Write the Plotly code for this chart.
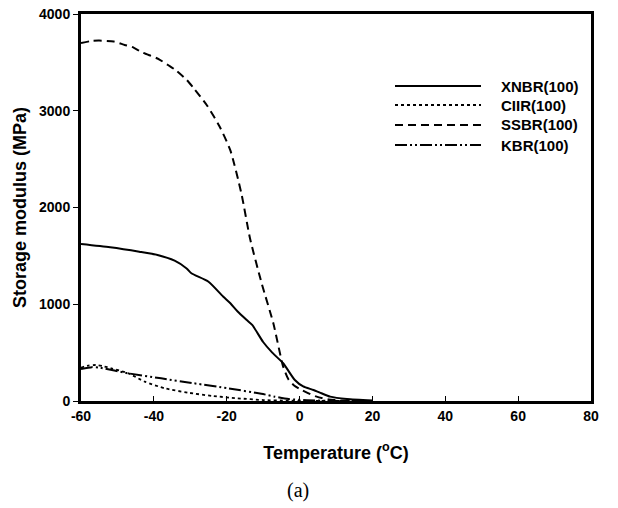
import plotly.graph_objects as go

# ---- data ----
series_names = ["XNBR(100)", "CIIR(100)", "SSBR(100)", "KBR(100)"]

xnbr_t = [-60, -52, -44, -39, -34.3, -31, -29.7, -25, -21, -19, -17, -14.5, -13, -10, -7.5, -4.5, -1.3, 1, 3.8, 6, 8.4, 13, 20]
xnbr_v = [1623, 1589, 1543, 1509, 1450, 1370, 1320, 1233, 1080, 1010, 925, 837, 786, 610, 500, 390, 217, 150, 114, 80, 45, 20, 5]

ciir_t = [-60, -58, -56, -54, -51.7, -47, -42.5, -37, -30.6, -24, -17, -10, -3, 5, 20]
ciir_v = [345, 365, 372, 360, 338, 286, 200, 131, 86, 52, 28, 10, 3, 0, 0]

ssbr_t = [-60, -57, -55, -51, -48, -46, -43, -39, -36, -34, -31, -29, -25.5, -22, -19, -16, -13.6, -10.4, -7.2, -4.5, -3, -1.5, 0.6, 3, 4.7, 8, 12, 20]
ssbr_v = [3700, 3722, 3725, 3715, 3680, 3660, 3600, 3540, 3470, 3420, 3320, 3230, 3060, 2840, 2590, 2150, 1680, 1216, 803, 355, 220, 160, 114, 70, 45, 15, 5, 0]

kbr_t = [-60, -57, -55, -47, -38, -29, -19.6, -10.5, -6.8, -3, 2, 8, 20]
kbr_v = [330, 350, 345, 286, 234, 183, 131, 75, 45, 20, 8, 2, 0]

x_ticks = [-60, -40, -20, 0, 20, 40, 60, 80]
y_ticks = [0, 1000, 2000, 3000, 4000]

dashes = ["solid", "dot", "8px,5px", "12px,3px,2px,3px,2px,3px"]
xs = [xnbr_t, ciir_t, ssbr_t, kbr_t]
ys = [xnbr_v, ciir_v, ssbr_v, kbr_v]
widths = [2, 1.8, 2, 2]

FONT = "Liberation Sans, Arial"

fig = go.Figure()
for name, x, y, d, w in zip(series_names, xs, ys, dashes, widths):
    fig.add_trace(go.Scatter(x=x, y=y, mode="lines", name=name,
                             line=dict(color="black", width=w, dash=d, shape="spline", smoothing=0.6),
                             showlegend=False))

# custom legend (drawn in paper coordinates)
L, W, B, H = 81, 510, 401, 387
def px2x(p): return (p - L) / W
def py2y(p): return (B - p) / H
rows = [86, 105, 125, 145]
for name, d, w, r in zip(series_names, dashes, widths, rows):
    fig.add_shape(type="line", xref="paper", yref="paper",
                  x0=px2x(395), x1=px2x(481), y0=py2y(r), y1=py2y(r),
                  line=dict(color="black", width=w, dash=d))
    fig.add_annotation(x=px2x(499), y=py2y(r), xref="paper", yref="paper",
                       text="<b>%s</b>" % name, showarrow=False, xanchor="left",
                       yanchor="middle", font=dict(family=FONT, size=15, color="black"))

fig.add_annotation(x=px2x(298), xref="paper", y=py2y(490), yref="paper", text="(a)", showarrow=False,
                   font=dict(family="Liberation Serif, Times New Roman", size=20, color="black"),
                   xanchor="center", yanchor="middle")

fig.update_layout(
    width=618, height=508,
    margin=dict(l=81, r=27, t=14, b=107),
    paper_bgcolor="white", plot_bgcolor="white",
    font=dict(family=FONT, size=15, color="black"),
    showlegend=False,
)
fig.update_xaxes(range=[-60, 80], tickvals=x_ticks, ticktext=["<b>%d</b>" % v for v in x_ticks],
                 showline=True, linewidth=3, linecolor="black", mirror=True,
                 ticks="inside", ticklen=5, tickwidth=1, tickcolor="black",
                 showgrid=False, zeroline=False, automargin=False,
                 tickfont=dict(family=FONT, size=14),
                 title=dict(text="<b>Temperature (<sup>o</sup>C)</b>", font=dict(family=FONT, size=18), standoff=24))
fig.update_yaxes(range=[0, 4000], tickvals=y_ticks, ticktext=["<b>%d</b>" % v for v in y_ticks],
                 showline=True, linewidth=3, linecolor="black", mirror=True,
                 ticks="outside", ticklen=5, tickwidth=1, tickcolor="black",
                 showgrid=False, zeroline=False, automargin=False,
                 tickfont=dict(family=FONT, size=14),
                 title=dict(text="<b>Storage modulus (MPa)</b>", font=dict(family=FONT, size=18), standoff=8))

fig.write_html("out.html", config={"displayModeBar": False},
               post_script="document.body.style.margin='0';document.body.style.overflow='hidden';")
